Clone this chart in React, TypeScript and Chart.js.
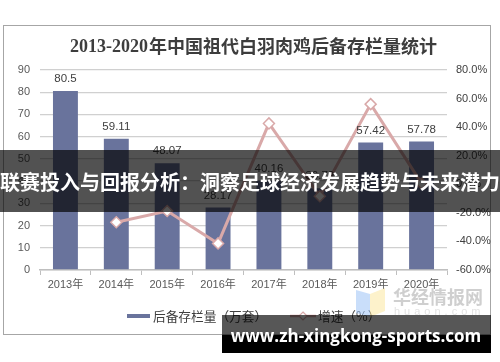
import React, { useEffect, useRef } from "react";
import { Chart, registerables } from "chart.js";

Chart.register(...registerables);

const categories = ["2013年", "2014年", "2015年", "2016年", "2017年", "2018年", "2019年", "2020年"];
const stockValues = [80.5, 59.11, 48.07, 28.17, 40.16, 36.79, 57.42, 57.78];
const growthValues = [null, -26.6, -18.7, -41.4, 42.6, -8.4, 56.1, 0.6];
const stockLabel = "后备存栏量（万套）";
const growthLabel = "增速（%）";
const titleNum = "2013-2020";
const titleCjk = "年中国祖代白羽肉鸡后备存栏量统计";
const bannerText = "联赛投入与回报分析：洞察足球经济发展趋势与未来潜力";
const watermarkText = "www.zh-xingkong-sports.com";
const logoText = "华经情报网";
const logoSub = "huaon.com";

const BAR = "#69739c";
const LINE = "#d9a9a9";
const SANS = "'Liberation Sans', 'Noto Sans CJK SC', sans-serif";
const CJK = "'Noto Sans CJK SC', 'Liberation Sans', sans-serif";

const decor = {
  id: "decor",
  beforeDraw(chart: any) {
    const ctx = chart.ctx;
    ctx.save();
    ctx.fillStyle = "#ffffff";
    ctx.fillRect(0, 0, chart.width, chart.height);
    ctx.strokeStyle = "#a6a6a6";
    ctx.lineWidth = 1;
    ctx.strokeRect(3.5, 25.5, 487, 309);
    // title
    ctx.fillStyle = "#3d3d3d";
    ctx.textBaseline = "middle";
    ctx.textAlign = "left";
    ctx.font = "bold 18px 'Liberation Serif', serif";
    ctx.fillText(titleNum, 70, 47);
    const w = ctx.measureText(titleNum).width;
    ctx.font = "bold 18px " + CJK;
    ctx.fillText(titleCjk, 70 + w + 1, 46);
    ctx.restore();
  },
  afterDatasetsDraw(chart: any) {
    const ctx = chart.ctx;
    ctx.save();
    // bar value labels
    const meta = chart.getDatasetMeta(0);
    ctx.fillStyle = "#404040";
    ctx.font = "11.5px " + SANS;
    ctx.textAlign = "center";
    ctx.textBaseline = "middle";
    meta.data.forEach((el: any, i: number) => {
      ctx.fillText(String(stockValues[i]), el.x, el.y - 12);
    });
    // legend
    ctx.fillStyle = BAR;
    ctx.fillRect(127, 314, 23, 4);
    ctx.textAlign = "left";
    ctx.fillStyle = "#404040";
    ctx.font = "12.7px " + CJK;
    ctx.fillText(stockLabel, 153, 316);
    ctx.strokeStyle = LINE;
    ctx.lineWidth = 2.5;
    ctx.beginPath();
    ctx.moveTo(290, 316);
    ctx.lineTo(316, 316);
    ctx.stroke();
    ctx.fillStyle = "#ffffff";
    ctx.lineWidth = 1.2;
    ctx.beginPath();
    ctx.moveTo(303, 312);
    ctx.lineTo(307, 316);
    ctx.lineTo(303, 320);
    ctx.lineTo(299, 316);
    ctx.closePath();
    ctx.fill();
    ctx.stroke();
    ctx.fillStyle = "#404040";
    ctx.fillText(growthLabel, 318, 316);
    ctx.restore();
  },
  afterDraw(chart: any) {
    const ctx = chart.ctx;
    ctx.save();
    // faint logo
    ctx.globalAlpha = 0.55;
    ctx.fillStyle = "#9cc3f5";
    ctx.beginPath();
    ctx.moveTo(356, 290);
    ctx.lineTo(370, 294);
    ctx.lineTo(370, 317);
    ctx.lineTo(356, 313);
    ctx.closePath();
    ctx.fill();
    ctx.fillStyle = "#fbe7a1";
    ctx.beginPath();
    ctx.moveTo(370, 294);
    ctx.lineTo(385, 288);
    ctx.lineTo(385, 311);
    ctx.lineTo(370, 317);
    ctx.closePath();
    ctx.fill();
    ctx.globalAlpha = 1;
    ctx.fillStyle = "#cfcfcf";
    ctx.font = "bold 18px " + CJK;
    ctx.textBaseline = "middle";
    ctx.textAlign = "left";
    ctx.fillText(logoText, 393, 297);
    ctx.fillStyle = "#e3e3e3";
    ctx.font = "11px " + SANS;
    (ctx as any).letterSpacing = "4px";
    ctx.fillText(logoSub, 394, 312);
    (ctx as any).letterSpacing = "0px";
    // banner
    ctx.fillStyle = "rgba(0,0,0,0.68)";
    ctx.fillRect(0, 150, 500, 62);
    ctx.fillStyle = "#ffffff";
    ctx.font = "bold 20px " + CJK;
    ctx.textAlign = "center";
    ctx.fillText(bannerText, 250, 182);
    // watermark
    ctx.fillStyle = "rgba(0,0,0,0.66)";
    ctx.fillRect(222, 315, 269, 20);
    ctx.fillStyle = "#000000";
    ctx.fillRect(222, 335, 269, 18);
    ctx.fillStyle = "#ffffff";
    ctx.font = "bold 17px 'Open Sans', 'DejaVu Sans', sans-serif";
    ctx.textAlign = "center";
    ctx.fillText(watermarkText, 356, 337);
    ctx.restore();
  },
};

export default function App() {
  const ref = useRef<HTMLCanvasElement | null>(null);
  useEffect(() => {
    if (!ref.current) return;
    const chart = new Chart(ref.current, {
      type: "bar",
      data: {
        labels: categories,
        datasets: [
          {
            type: "bar",
            label: stockLabel,
            data: stockValues,
            backgroundColor: BAR,
            yAxisID: "y",
            categoryPercentage: 1,
            barPercentage: 0.49,
            order: 1,
          },
          {
            type: "line",
            label: growthLabel,
            data: growthValues as any,
            borderColor: LINE,
            borderWidth: 3,
            pointStyle: "rectRot",
            pointRadius: 5.5,
            pointBackgroundColor: "#ffffff",
            pointBorderColor: LINE,
            pointBorderWidth: 1.5,
            yAxisID: "y1",
            tension: 0,
            order: 0,
          },
        ],
      },
      options: {
        animation: false,
        responsive: false,
        events: [],
        layout: { padding: { top: 70, bottom: 62, left: 0, right: 0 } },
        plugins: { legend: { display: false }, title: { display: false }, tooltip: { enabled: false } },
        scales: {
          x: {
            offset: true,
            grid: { display: true, drawOnChartArea: false, drawTicks: true, tickLength: 5, color: "#bfbfbf", offset: true },
            border: { color: "#bfbfbf", width: 1.5 },
            ticks: { color: "#595959", font: { size: 11, family: SANS }, padding: 3, maxRotation: 0 },
            afterFit: (s: any) => { s.height = 30; },
          },
          y: {
            min: 0,
            max: 90,
            ticks: { stepSize: 10, color: "#595959", font: { size: 11, family: SANS }, padding: 10 },
            grid: { color: "#d0d0d0", lineWidth: 1.3, drawTicks: false },
            border: { display: false },
            afterFit: (s: any) => { s.width = 40; },
          },
          y1: {
            position: "right",
            min: -60,
            max: 80,
            ticks: { stepSize: 20, color: "#404040", font: { size: 11, family: SANS }, padding: 9, callback: (v: any) => Number(v).toFixed(1) + "%" },
            grid: { display: false, drawTicks: false },
            border: { display: false },
            afterFit: (s: any) => { s.width = 53; },
          },
        },
      },
      plugins: [decor],
    });
    return () => chart.destroy();
  }, []);
  return (
    <div style={{ position: "fixed", left: 0, top: 0, width: 500, height: 362, background: "#fff" }}>
      <canvas ref={ref} width={500} height={362} style={{ display: "block", width: 500, height: 362 }} />
    </div>
  );
}
